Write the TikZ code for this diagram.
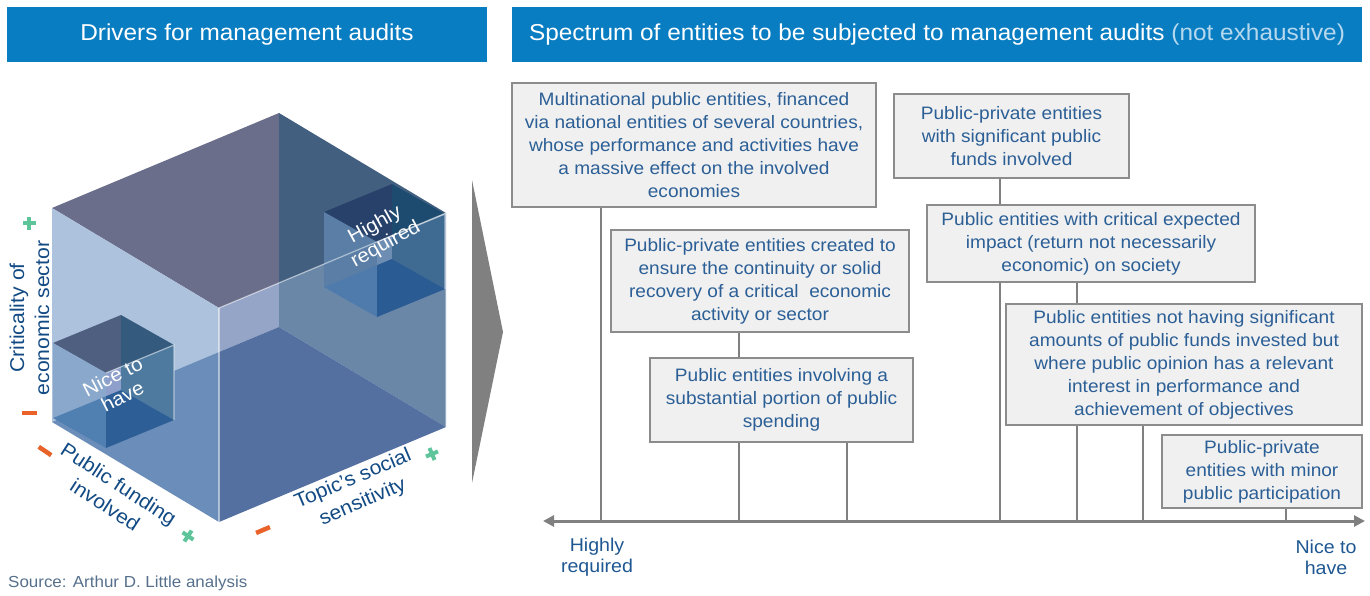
\documentclass[tikz,border=0pt]{standalone}
\usepackage{fontspec}
\setmainfont[FakeStretch=1.06]{Liberation Sans}
\usetikzlibrary{arrows.meta}

\definecolor{hdr}{HTML}{097DC2}
\definecolor{hdrsoft}{HTML}{B5D8EE}
\definecolor{boxtext}{HTML}{2B5F96}
\definecolor{axlabel}{HTML}{1E5792}
\definecolor{cubelabel}{HTML}{124A84}
\definecolor{boxfill}{HTML}{F0F0F0}
\definecolor{boxline}{HTML}{8C8C8C}
\definecolor{conn}{HTML}{808080}
\definecolor{pluscol}{HTML}{5EC49A}
\definecolor{minuscol}{HTML}{E8622A}
\definecolor{srccol}{HTML}{56708C}

% small transparent cube: #1,#2 = top back corner; #3..#9 = region colours
\newcommand{\minicube}[9]{%
  \fill[fill=#3] ({#1-68},{#2+28}) -- (#1,#2) -- (#1,{#2+51.8}) -- ({#1-15},{#2+58}) -- cycle;
  \fill[fill=#4] (#1,#2) -- ({#1+53},{#2+30}) -- (#1,{#2+51.8}) -- cycle;
  \fill[fill=#5] ({#1-68},{#2+28}) -- ({#1-15},{#2+58}) -- ({#1-15},{#2+81.2}) -- ({#1-68},{#2+103}) -- cycle;
  \fill[fill=#6] ({#1-68},{#2+103}) -- ({#1-15},{#2+81.2}) -- ({#1-15},{#2+133}) -- cycle;
  \fill[fill=#7] ({#1-15},{#2+58}) -- (#1,{#2+51.8}) -- (#1,{#2+75}) -- ({#1-15},{#2+81.2}) -- cycle;
  \fill[fill=#8] (#1,{#2+51.8}) -- ({#1+53},{#2+30}) -- ({#1+53},{#2+105}) -- (#1,{#2+75}) -- cycle;
  \fill[fill=#9] ({#1-15},{#2+81.2}) -- (#1,{#2+75}) -- ({#1+53},{#2+105}) -- ({#1-15},{#2+133}) -- cycle;
  \draw[edgeline] ({#1-15},{#2+58}) -- ({#1+53},{#2+30}) -- ({#1+53},{#2+105});
}

\begin{document}
\begin{tikzpicture}[x=1pt,y=-1pt,
  hdrbox/.style={fill=hdr, text=white, inner sep=0pt, minimum height=55pt,
    font=\fontsize{23pt}{27pt}\selectfont},
  entity/.style={draw=boxline, line width=1.5pt, fill=boxfill, text=boxtext,
    align=center, inner sep=0pt, font=\fontsize{18pt}{23pt}\selectfont},
  link/.style={draw=conn, line width=1.6pt},
  endlabel/.style={text=axlabel, align=center, inner sep=0pt,
    font=\fontsize{18.5pt}{21pt}\selectfont},
  driver/.style={text=cubelabel, align=center, inner sep=0pt,
    font=\fontsize{20pt}{25pt}\selectfont},
  cubetext/.style={text=white, align=center, inner sep=0pt,
    font=\fontsize{19.5pt}{22pt}\selectfont},
  edgeline/.style={draw=white, draw opacity=0.5, line width=1.2pt},
  minusbar/.style={fill=minuscol, minimum width=15pt, minimum height=4.5pt, inner sep=0pt},
  plusbar/.style={fill=pluscol, minimum width=13pt, minimum height=4pt, inner sep=0pt}]

\useasboundingbox (0,0) rectangle (1370,595);

% ---------- headers ----------
\node[hdrbox, minimum width=480pt] (hleft) at (247,34.5) {Drivers for management audits};
\node[hdrbox, minimum width=850pt] (hright) at (937,34.5)
  {Spectrum of entities to be subjected to management audits \textcolor{hdrsoft}{(not exhaustive)}};

% ---------- large cube ----------
\fill[fill={rgb,255:red,107;green,110;blue,138}] (52,208) -- (279,113) -- (279,283) -- (219,308) -- cycle;
\fill[fill={rgb,255:red,67;green,95;blue,128}] (279,113) -- (446,213) -- (279,283) -- cycle;
\fill[fill={rgb,255:red,173;green,195;blue,221}] (52,208) -- (219,308) -- (219,352) -- (52,422) -- cycle;
\fill[fill={rgb,255:red,107;green,141;blue,186}] (52,422) -- (219,352) -- (219,522) -- cycle;
\fill[fill={rgb,255:red,149;green,165;blue,200}] (219,308) -- (279,283) -- (279,327) -- (219,352) -- cycle;
\fill[fill={rgb,255:red,106;green,135;blue,168}] (279,283) -- (446,213) -- (446,427) -- (279,327) -- cycle;
\fill[fill={rgb,255:red,84;green,112;blue,160}] (219,352) -- (279,327) -- (446,427) -- (219,522) -- cycle;

% ---------- small cubes ----------
\minicube{392}{184}{{rgb,255:red,39;green,65;blue,107}}{{rgb,255:red,29;green,75;blue,112}}%
  {{rgb,255:red,90;green,126;blue,166}}{{rgb,255:red,78;green,123;blue,171}}%
  {{rgb,255:red,109;green,141;blue,179}}{{rgb,255:red,63;green,107;blue,147}}%
  {{rgb,255:red,42;green,91;blue,146}}
\minicube{121}{315}{{rgb,255:red,79;green,95;blue,128}}{{rgb,255:red,52;green,90;blue,126}}%
  {{rgb,255:red,138;green,168;blue,203}}{{rgb,255:red,80;green,127;blue,178}}%
  {{rgb,255:red,141;green,159;blue,202}}{{rgb,255:red,78;green,122;blue,160}}%
  {{rgb,255:red,45;green,95;blue,150}}

% light edges of the large cube
\draw[edgeline] (219,308) -- (446,213) -- (446,427);
\draw[edgeline] (219,308) -- (219,522);

\node[cubetext, rotate=29] (hrq) at (380.5,235) {Highly\\required};
\node[cubetext, rotate=27] (nth) at (117.5,386.5) {Nice to\\have};

% ---------- cube axes ----------
\node[driver, rotate=90] (crit) at (29.5,318) {Criticality of\\economic sector};
\node[driver, rotate=-33] (fund) at (112,494.5) {Public funding\\involved};
\node[driver, rotate=23] (topic) at (358,491) {Topic’s social\\sensitivity};

\node[plusbar] (cp1) at (29,223) {};
\node[plusbar, rotate=90] (cp2) at (29,223) {};
\node[minusbar] (cm) at (29,413) {};
\node[minusbar, rotate=-34] (fm) at (45,451) {};
\node[plusbar, rotate=-34] (fp1) at (188,536) {};
\node[plusbar, rotate=56] (fp2) at (188,536) {};
\node[minusbar, rotate=23] (tm) at (263,530) {};
\node[plusbar, rotate=23] (tp1) at (432,454) {};
\node[plusbar, rotate=113] (tp2) at (432,454) {};

\node[anchor=west, text=srccol, inner sep=0pt, font=\fontsize{16pt}{18pt}\selectfont]
  (src) at (8,583) {Source: Arthur D. Little analysis};

% ---------- chevron ----------
\fill[conn] (472,180) -- (503,332) -- (472,483) -- cycle;

% ---------- spectrum ----------
\coordinate (axL) at (543,521);
\coordinate (axR) at (1365,521);
\coordinate (t1) at (601,521);
\coordinate (t2) at (739,521);
\coordinate (t3) at (847,521);
\coordinate (t4) at (1000,521);
\coordinate (t5) at (1077,521);
\coordinate (t6) at (1143,521);
\coordinate (t7) at (1286,521);

\node[entity, minimum width=364pt, minimum height=124pt] (b1) at (694,145)
  {Multinational public entities, financed\\via national entities of several countries,\\whose performance and activities have\\a massive effect on the involved\\economies};
\node[entity, minimum width=298pt, minimum height=102pt] (b2) at (760,281)
  {Public-private entities created to\\ensure the continuity or solid\\recovery of a critical\ \ economic\\activity or sector};
\node[entity, minimum width=263pt, minimum height=84pt] (b3) at (781.5,400)
  {Public entities involving a\\substantial portion of public\\spending};
\node[entity, minimum width=235pt, minimum height=84pt] (b4) at (1011.5,136)
  {Public-private entities\\with significant public\\funds involved};
\node[entity, minimum width=328pt, minimum height=77pt] (b5) at (1091,243.5)
  {Public entities with critical expected\\impact (return not necessarily\\economic) on society};
\node[entity, minimum width=356pt, minimum height=121pt] (b6) at (1184,364.5)
  {Public entities not having significant\\amounts of public funds invested but\\where public opinion has a relevant\\interest in performance and\\achievement of objectives};
\node[entity, minimum width=200pt, minimum height=73pt] (b7) at (1262,471.5)
  {Public-private\\entities with minor\\public participation};

\draw[link] (b1.south -| t1) -- (t1);
\draw[link] (b2.south -| t2) -- (b3.north -| t2);
\draw[link] (b3.south -| t2) -- (t2);
\draw[link] (b3.south -| t3) -- (t3);
\draw[link] (b4.south -| t4) -- (b5.north -| t4);
\draw[link] (b5.south -| t4) -- (t4);
\draw[link] (b5.south -| t5) -- (b6.north -| t5);
\draw[link] (b6.south -| t5) -- (t5);
\draw[link] (b6.south -| t6) -- (t6);
\draw[link] (b7.south -| t7) -- (t7);

\draw[draw=conn, line width=3pt,
  {Triangle[length=11pt,width=11pt]}-{Triangle[length=11pt,width=11pt]}] (axL) -- (axR);

\node[endlabel] (hi) at (597,557.5) {Highly\\required};
\node[endlabel] (lo) at (1326,557.5) {Nice to\\have};

\end{tikzpicture}
\end{document}
